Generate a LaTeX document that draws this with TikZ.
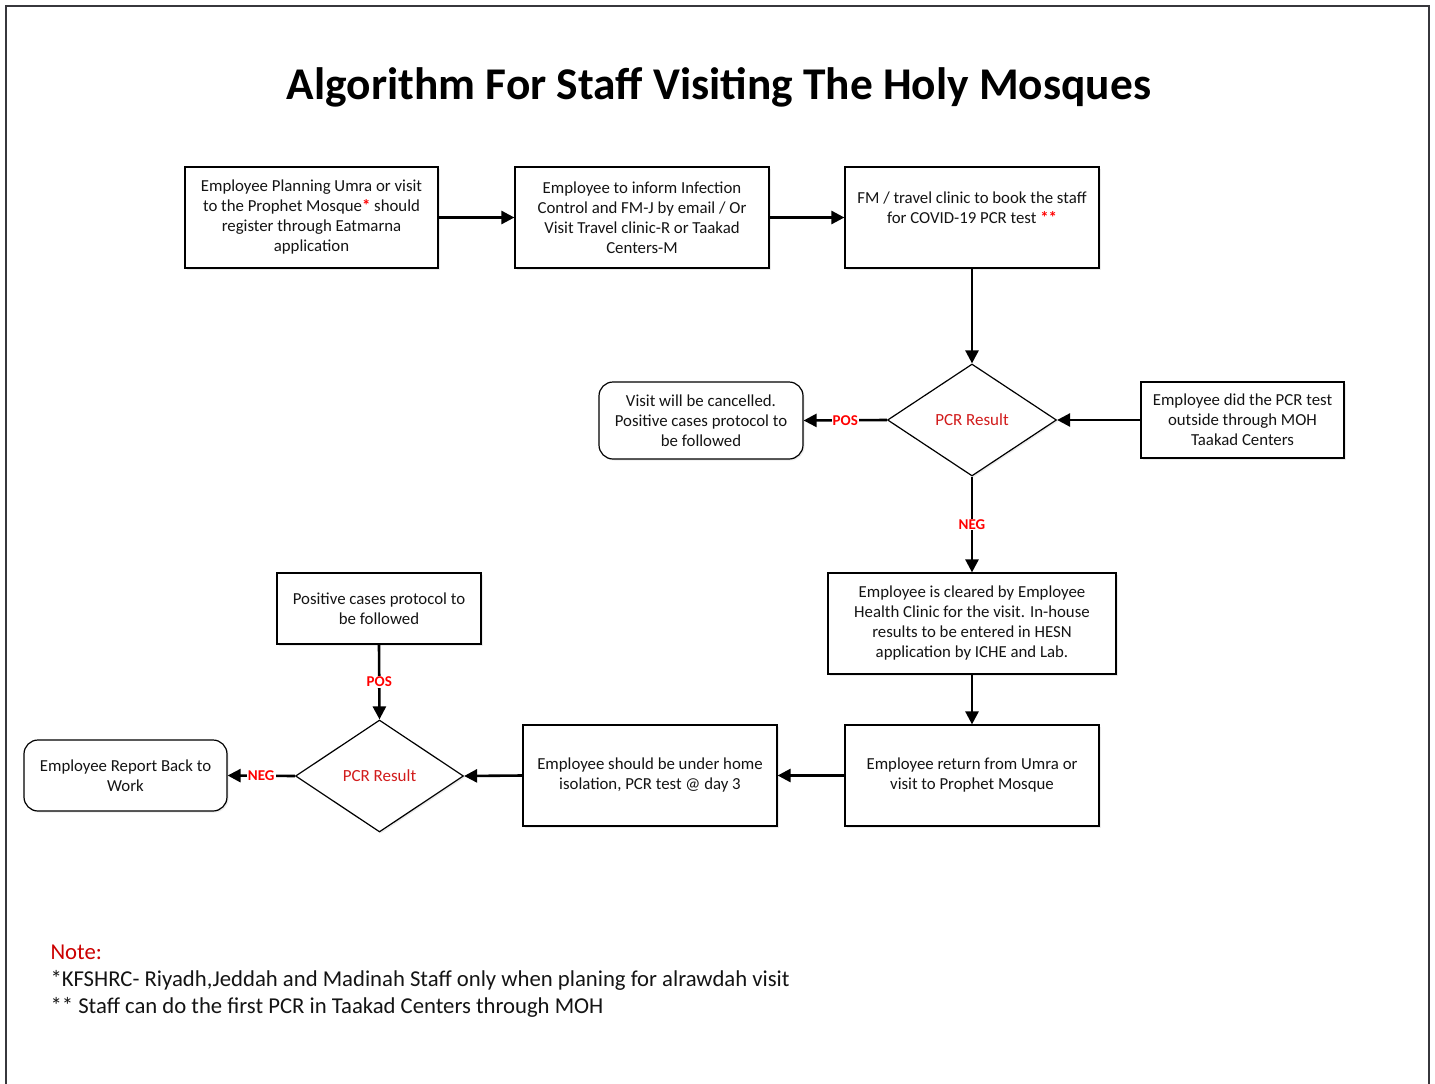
\documentclass[tikz,border=0pt]{standalone}
\usepackage{fontspec}
\setmainfont{Carlito}
\usetikzlibrary{shapes.geometric,arrows.meta,shadows}
\definecolor{framegray}{RGB}{55,55,60}
\definecolor{pcrred}{RGB}{210,28,28}
\definecolor{labred}{RGB}{255,0,0}
\definecolor{notered}{RGB}{204,0,0}
\definecolor{txt}{RGB}{20,20,20}
\begin{document}
\begin{tikzpicture}[x=1pt,y=-1pt,
  softshadow/.style={drop shadow={shadow xshift=1.5pt,shadow yshift=-1.5pt,opacity=0.15,fill=gray}},
  box/.style={draw, line width=1.2pt, fill=white, align=center, text=txt,
    font=\fontsize{16.8}{20}\selectfont, inner sep=3pt, softshadow},
  roundbox/.style={box, rounded corners=14pt},
  decision/.style={draw, diamond, line width=1.2pt, fill=white, inner sep=0pt,
    minimum width=169pt, minimum height=112pt, text=pcrred,
    font=\fontsize{17}{20}\selectfont, softshadow},
  conn/.style={line width=2.6pt, -{Triangle[length=13pt,width=13pt]}},
  lab/.style={fill=white, inner sep=1pt, text=labred, font=\bfseries\fontsize{15}{17}\selectfont},
  notetext/.style={anchor=base west, text=txt, font=\fontsize{22.7}{27}\selectfont}]

\useasboundingbox (0,0) rectangle (1435,1084);
\fill[white] (0,0) rectangle (1435,1084);

% page frame, open at the bottom
\draw[framegray, line width=2pt] (6,1084) -- (6,6) -- (1429,6) -- (1429,1084);

% title
\node[text=black, font=\bfseries\fontsize{45.4}{50}\selectfont] (title) at (719,87)
  {Algorithm For Staff Visiting The Holy Mosques};

% first row
\node[box, minimum width=253pt, minimum height=101pt] (plan) at (311.5,217.5)
  {Employee Planning Umra or visit\\to the Prophet Mosque\textcolor{labred}{\bfseries*} should\\register through Eatmarna\\application};
\node[box, minimum width=254pt, minimum height=101pt] (inform) at (642,217.5)
  {Employee to inform Infection\\Control and FM-J by email / Or\\Visit Travel clinic-R or Taakad\\Centers-M};
\node[box, minimum width=254pt, minimum height=101pt] (book) at (972,217.5)
  {FM / travel clinic to book the staff\\for COVID-19 PCR test \textcolor{labred}{\bfseries**}\\\mbox{}};

% first decision
\node[decision] (pcr1) at (972,420) {PCR Result};
\node[roundbox, minimum width=204pt, minimum height=77pt] (cancel) at (701,420.5)
  {Visit will be cancelled.\\Positive cases protocol to\\be followed};
\node[box, minimum width=203pt, minimum height=76pt] (moh) at (1242.5,420)
  {Employee did the PCR test\\outside through MOH\\Taakad Centers};

% cleared and return
\node[box, minimum width=288pt, minimum height=101pt] (cleared) at (972,623.5)
  {Employee is cleared by Employee\\Health Clinic for the visit. In-house\\results to be entered in HESN\\application by ICHE and Lab.};
\node[box, minimum width=254pt, minimum height=101pt] (return) at (972,775.5)
  {Employee return from Umra or\\visit to Prophet Mosque};
\node[box, minimum width=254pt, minimum height=101pt] (home) at (650,775.5)
  {Employee should be under home\\isolation, PCR test @ day 3};

% second decision
\node[decision, minimum width=168pt] (pcr2) at (379.5,776) {PCR Result};
\node[box, minimum width=204pt, minimum height=71pt] (positive) at (379,608.5)
  {Positive cases protocol to\\be followed};
\node[roundbox, minimum width=203pt, minimum height=71pt] (backwork) at (125.5,775.5)
  {Employee Report Back to\\Work};

% connectors
\draw[conn] (plan.east) -- (inform.west);
\draw[conn] (inform.east) -- (book.west);
\draw[conn] (book.south) -- (pcr1.north);
\draw[conn] (moh.west) -- (pcr1.east);
\draw[conn] (pcr1.west) -- node[lab] {POS} (cancel.east);
\draw[conn] (pcr1.south) -- node[lab] {NEG} (cleared.north);
\draw[conn] (cleared.south) -- (return.north);
\draw[conn] (return.west) -- (home.east);
\draw[conn] (home.west) -- (pcr2.east);
\draw[conn] (positive.south) -- node[lab] {POS} (pcr2.north);
\draw[conn] (pcr2.west) -- node[lab] {NEG} (backwork.east);

% notes
\node[notetext, text=notered] (notehead) at (47,959) {Note:};
\node[notetext] (note1) at (47,986) {*KFSHRC- Riyadh,Jeddah and Madinah Staff only when planing for alrawdah visit};
\node[notetext] (note2) at (47,1013) {** Staff can do the first PCR in Taakad Centers through MOH};
\end{tikzpicture}
\end{document}
